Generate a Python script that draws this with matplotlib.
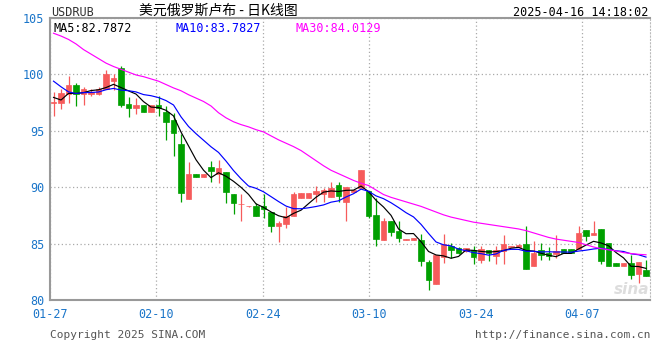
import matplotlib
matplotlib.use('Agg')
import matplotlib.pyplot as plt
import numpy as np
import pandas as pd

plt.rcParams['font.family'] = ['DejaVu Sans Mono', 'Noto Sans CJK SC']

# daily candles 01-27 .. 04-16
dates = pd.date_range('2025-01-27', '2025-04-16', freq='D')
opens = [97.50, 97.49, 98.28, 99.05, 98.28, 98.25, 98.28, 98.67, 99.40, 100.53,
         97.35, 96.99, 97.28, 96.69, 97.28, 96.69, 95.96, 93.83, 88.96, 91.18,
         90.88, 91.77, 91.18, 91.38, 89.41, 88.48, 88.30, 88.35, 88.37, 87.79,
         86.60, 86.73, 87.49, 89.08, 89.08, 89.43, 89.38, 89.14, 90.20, 88.73,
         89.61, 89.91, 89.67, 87.55, 85.34, 87.02, 86.13, 85.33, 85.31, 85.31,
         83.33, 81.44, 83.77, 84.78, 84.60, 84.30, 84.45, 83.57, 84.45, 83.92,
         84.30, 84.72, 84.74, 84.98, 82.97, 84.39, 84.16, 84.10, 84.51, 84.51,
         84.51, 86.22, 85.75, 86.31, 85.04, 83.27, 82.97, 83.27, 82.33, 82.62]
highs = [98.40, 98.70, 99.85, 99.23, 98.88, 98.70, 98.85, 100.38, 100.03, 100.73,
         97.99, 97.87, 97.28, 97.28, 98.05, 97.22, 96.55, 94.72, 92.21, 91.18,
         91.18, 92.33, 92.42, 91.38, 89.41, 89.41, 88.34, 88.56, 89.38, 87.79,
         87.02, 88.28, 89.56, 89.50, 89.50, 90.14, 89.91, 90.47, 90.50, 90.00,
         89.80, 91.53, 89.67, 89.03, 87.31, 87.02, 87.02, 85.45, 85.49, 85.84,
         83.57, 83.95, 85.84, 85.01, 84.70, 84.65, 84.80, 84.80, 84.45, 84.80,
         85.78, 84.83, 84.95, 86.58, 85.25, 85.04, 84.69, 85.78, 84.51, 84.51,
         86.58, 86.22, 87.04, 86.31, 85.04, 83.27, 83.27, 84.01, 83.39, 83.57]
lows = [96.34, 96.93, 97.49, 97.22, 97.28, 98.10, 98.15, 98.67, 98.60, 97.13,
        96.22, 96.51, 96.69, 96.69, 96.31, 94.18, 92.80, 88.73, 88.96, 90.88,
        90.88, 90.50, 90.35, 88.64, 87.66, 87.04, 88.28, 87.49, 87.26, 86.02,
        85.13, 86.42, 87.49, 89.08, 89.08, 88.73, 88.73, 89.14, 88.73, 86.96,
        89.55, 89.91, 87.26, 84.83, 85.34, 85.63, 85.13, 85.33, 85.31, 82.97,
        80.91, 81.44, 83.27, 83.72, 84.10, 84.25, 83.15, 83.27, 83.42, 83.21,
        83.21, 84.72, 84.70, 82.77, 82.97, 83.57, 83.57, 83.72, 84.21, 84.21,
        84.51, 85.19, 85.75, 83.19, 82.97, 82.97, 82.97, 81.88, 81.50, 82.15]
closes = [97.55, 98.35, 99.05, 98.28, 98.70, 98.46, 98.70, 100.03, 99.70, 97.28,
          96.99, 97.28, 96.69, 97.28, 97.04, 95.80, 94.78, 89.52, 91.18, 90.88,
          91.18, 91.47, 91.71, 89.61, 88.64, 88.52, 88.34, 87.49, 88.08, 86.60,
          86.84, 87.46, 89.41, 89.50, 89.50, 89.67, 89.73, 89.94, 89.26, 90.00,
          89.76, 91.53, 87.49, 85.42, 87.02, 86.07, 85.49, 85.38, 85.49, 83.42,
          81.73, 83.95, 84.96, 84.45, 84.21, 84.60, 83.77, 84.51, 84.16, 84.45,
          84.98, 84.83, 84.92, 82.77, 84.21, 84.01, 83.92, 84.30, 84.21, 84.21,
          85.98, 85.63, 85.98, 83.48, 82.97, 82.97, 83.27, 82.24, 83.39, 82.15]
ma30 = [103.65, 103.4, 103.1, 102.7, 102.2, 101.8, 101.4, 101.0, 100.7, 100.45,
        100.2, 99.95, 99.8, 99.6, 99.4, 99.1, 98.8, 98.55, 98.2, 97.9,
        97.6, 97.2, 96.6, 96.15, 95.8, 95.55, 95.35, 95.1, 94.9, 94.55,
        94.2, 93.9, 93.6, 93.25, 92.8, 92.35, 91.9, 91.5, 91.2, 90.9,
        90.6, 90.35, 90.15, 89.75, 89.35, 89.1, 88.9, 88.7, 88.5, 88.3,
        88.05, 87.8, 87.55, 87.35, 87.2, 87.05, 86.9, 86.8, 86.7, 86.6,
        86.5, 86.4, 86.3, 86.15, 85.95, 85.75, 85.55, 85.4, 85.3, 85.2,
        85.1, 84.9, 84.7, 84.55, 84.45, 84.35, 84.2, 84.12, 84.05, 84.01]
# first MA5 / MA10 points also depend on earlier days
ma5_head = [97.96, 97.73]
ma10_head = [99.4, 98.9, 98.45]
ma_labels = ['MA5:82.7872', 'MA10:83.7827', 'MA30:84.0129']
tick_dates = ['01-27', '02-10', '02-24', '03-10', '03-24', '04-07']
yticks = [80, 85, 90, 95, 100, 105]

df = pd.DataFrame({'Open': opens, 'High': highs, 'Low': lows, 'Close': closes,
                   'mav30': ma30}, index=dates)
df['mav5'] = df['Close'].rolling(5, min_periods=1).mean()
df['mav10'] = df['Close'].rolling(10, min_periods=1).mean()
df.iloc[:len(ma5_head), df.columns.get_loc('mav5')] = ma5_head
df.iloc[:len(ma10_head), df.columns.get_loc('mav10')] = ma10_head

RED = '#f65b5b'
GREEN = '#00a000'
BLUE_TXT = '#1a75c9'

fig = plt.figure(figsize=(6.6, 3.6), dpi=100)
ax = fig.add_axes([50 / 660, 60 / 360, 600 / 660, 282 / 360])

x = np.arange(len(df))
up = df['Close'] >= df['Open']
colors = np.where(up, RED, GREEN)

# wicks and bodies
ax.vlines(x, df['Low'], df['High'], colors=colors, lw=0.9, zorder=3)
body = (df['Close'] - df['Open']).abs().clip(lower=0.05)
bottom = df[['Open', 'Close']].min(axis=1)
ax.bar(x, body, bottom=bottom, width=0.72, color=colors, edgecolor=colors,
       lw=0.5, zorder=4)

# moving averages
ax.plot(x, df['mav5'], c='black', lw=0.85, zorder=5)
ax.plot(x, df['mav10'], c='#0000ff', lw=0.85, zorder=5)
ax.plot(x, df['mav30'], c='#ff00ff', lw=0.85, zorder=5)

ax.set_xlim(-0.47, 79.53)
ax.set_ylim(80, 105)
ax.set_yticks(yticks)
ax.set_yticklabels([str(v) for v in yticks])
xt = np.linspace(-0.47, 70.5, len(tick_dates))
ax.set_xticks(xt)
ax.set_xticklabels(tick_dates)
ax.tick_params(length=0, colors=BLUE_TXT, labelsize=8.5)
ax.tick_params(axis='y', pad=4)
ax.tick_params(axis='x', pad=6)

ax.grid(True, color='#aaaaaa', ls=(0, (1, 2)), lw=0.9)
for s in ['left', 'bottom', 'top']:
    ax.spines[s].set_color('#999999')
    ax.spines[s].set_linewidth(1.5)
ax.spines['right'].set_color('#bbbbbb')
ax.spines['right'].set_linestyle((0, (1, 2)))

# header
fig.text(51 / 660, 1 - 12 / 360, 'USDRUB', fontsize=8.5, color='#333333', va='center')
fig.text(218 / 660, 1 - 11 / 360, '美元俄罗斯卢布 - 日K线图', fontsize=10,
         family=['Noto Sans CJK SC', 'DejaVu Sans'], ha='center', va='center')
fig.text(648 / 660, 1 - 12 / 360, '2025-04-16 14:18:02', fontsize=8.5,
         ha='right', va='center')
for lab, col, px in zip(ma_labels, ['black', '#0000ff', '#ff00ff'], [54, 175, 295]):
    fig.text(px / 660, 1 - 28 / 360, lab, fontsize=8.5, color=col, va='center')

# footer
fig.text(50 / 660, 1 - 335 / 360, 'Copyright 2025 SINA.COM', fontsize=8,
         color='#555555', va='center')
fig.text(650 / 660, 1 - 335 / 360, 'http://finance.sina.com.cn', fontsize=8,
         color='#555555', va='center', ha='right')
fig.text(632 / 660, 1 - 290 / 360, 'sina', fontsize=11, color='#dddddd',
         style='italic', weight='bold', ha='center', va='center',
         family='DejaVu Sans')

fig.savefig('out.png', dpi=100)
